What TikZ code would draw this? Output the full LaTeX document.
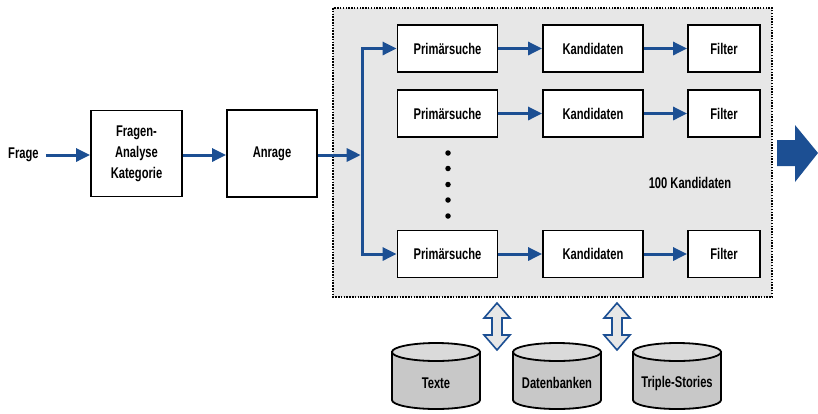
\documentclass[tikz,border=0pt]{standalone}
\usepackage{fontspec}
\setmainfont{Liberation Sans}[FakeStretch=0.72]
\usetikzlibrary{arrows.meta,shapes.geometric}
\definecolor{ablue}{HTML}{1C4F93}
\definecolor{panel}{HTML}{E7E7E7}
\definecolor{cylbody}{HTML}{C8C8C8}
\definecolor{cyltop}{HTML}{DADADA}
\tikzset{
  box/.style={draw=black, line width=1.8pt, fill=white, inner sep=0pt, align=center,
    font=\fontsize{15.5}{21}\selectfont\bfseries},
  lbl/.style={inner sep=0pt, font=\fontsize{15.5}{18}\selectfont\bfseries},
  arr/.style={draw=ablue, line width=3pt, line join=miter, -{Triangle[length=14pt,width=13pt]}},
  dotnode/.style={circle, fill=black, inner sep=0pt, minimum size=5.5pt},
  dbl/.style={draw=ablue, line width=1.6pt, fill=panel, line join=miter},
}
\begin{document}
\begin{tikzpicture}[x=1pt,y=-1pt]
\useasboundingbox (0,0) rectangle (818,413);
% panel
\draw[fill=panel, line width=1.5pt, dash pattern=on 1.5pt off 1.3pt] (333,8) rectangle (772,297);

% left chain
\node[lbl, anchor=west] (frage) at (8,155) {Frage};
\node[box, minimum width=91pt, minimum height=86pt] (fa) at (136.5,153.5) {Fragen-\\Analyse\\Kategorie};
\node[box, minimum width=90pt, minimum height=87pt] (an) at (272,153.5) {Anrage};
\draw[arr] ([xshift=7pt]frage.east) -- (fa.west |- frage.east);
\draw[arr] (fa.east |- 0,155) -- (an.west |- 0,155);

% rows
\foreach \i/\y in {1/48.5, 2/113.5, 3/254}{
  \node[box, minimum width=100pt, minimum height=47pt] (p\i) at (447.5,\y) {Primärsuche};
  \node[box, minimum width=100pt, minimum height=47pt] (k\i) at (593,\y) {Kandidaten};
  \node[box, minimum width=72pt, minimum height=47pt] (f\i) at (724,\y) {Filter};
  \draw[arr] (p\i) -- (k\i);
  \draw[arr] (k\i) -- (f\i);
}

% bar
\coordinate (bt) at (362,48.5);
\coordinate (bb) at (362,254);
\coordinate (bm) at (362,155);
\draw[arr] (bb) -- (bt) -- (p1.west);
\draw[arr] (bt) -- (bb) -- (p3.west);
\draw[arr, shorten >=1.3pt] (an.east |- bm) -- (bm);

% dots
\foreach \j/\y in {1/153, 2/168.5, 3/184.5, 4/200, 5/216}{
  \node[dotnode] (d\j) at (448,\y) {};
}
\node[lbl] (hundert) at (690,183) {100 Kandidaten};

% big right arrow
\fill[ablue] (777,140) -- (795,140) -- (795,125) -- (818,153) -- (795,182) -- (795,166) -- (777,166) -- cycle;

% double arrows
\foreach \x in {497,617}{
  \draw[dbl] (\x,303) -- (\x+13,318) -- (\x+5,318) -- (\x+5,335) -- (\x+13,335) -- (\x,350)
    -- (\x-13,335) -- (\x-5,335) -- (\x-5,318) -- (\x-13,318) -- cycle;
}

% cylinders
\foreach \n/\cx/\t in {c1/436/Texte, c2/557/Datenbanken, c3/677/Triple-Stories}{
  \draw[line width=1.8pt, fill=cylbody] (\cx-44,352) -- (\cx-44,400)
     arc[start angle=180, end angle=360, x radius=44, y radius=-9] -- (\cx+44,352) -- cycle;
  \draw[line width=1.8pt, fill=cyltop] (\cx,352) ellipse[x radius=44, y radius=9];
  \node[lbl] (\n) at (\cx,383) {\t};
}
\end{tikzpicture}
\end{document}
